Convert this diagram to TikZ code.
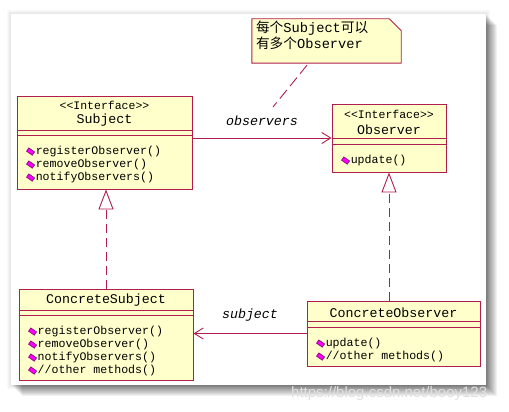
\documentclass[tikz,border=0pt]{standalone}
\usepackage{fontspec}
\setmonofont{Liberation Mono}
\newfontfamily\cjk{Noto Sans CJK SC}
\newfontfamily\wmfont{Liberation Sans}
\usetikzlibrary{arrows.meta,calc,positioning}

\definecolor{umlred}{HTML}{B01E4E}
\definecolor{umlfill}{HTML}{FFFFCC}
\definecolor{opfill}{HTML}{FF00FF}
\definecolor{opline}{HTML}{7A0A6A}

\tikzset{
  classbox/.style={draw=umlred,fill=umlfill,line width=0.9pt,rectangle,inner sep=0pt},
  umlline/.style={draw=umlred,line width=0.9pt},
  stereo/.style={font=\ttfamily\fontsize{11.5}{13}\selectfont,inner sep=0pt},
  classname/.style={font=\ttfamily\fontsize{13.3}{15}\selectfont,inner sep=0pt},
  methtext/.style={font=\ttfamily\fontsize{11.6}{13}\selectfont,anchor=west,inner sep=0pt},
  methicon/.style={rectangle,fill=opfill,draw=opline,line width=0.6pt,minimum width=7pt,minimum height=4pt,inner sep=0pt,rotate=-35},
  rolelabel/.style={font=\ttfamily\itshape\fontsize{13.3}{15}\selectfont,inner sep=0pt},
  realize/.style={umlline,dash pattern=on 9pt off 5pt,-{Triangle[open,length=20pt,width=15pt]}},
  assoc/.style={umlline,-{Straight Barb[length=9pt,width=11pt]}},
}

% operations of a class, one per line
\newcommand\umlops[2]{%
  \foreach \m [count=\i] in {#2}{
    \node[methtext] at ($(#1)+(0,{13*(\i-1)})$) {\m};
    \node[methicon] at ($(#1)+(-5,{13*(\i-1)})$) {};
  }}

\begin{document}
\begin{tikzpicture}[x=1pt,y=-1pt]
  \useasboundingbox (0,0) rectangle (509,412);
  % panel with shadow
  \foreach \s in {1,...,4}
    \fill[black,opacity=0.025] (11-\s,14-\s) rectangle (486+\s,385+\s);
  \foreach \s in {1,...,11}
    \fill[black,opacity=0.055] (11+\s,14+\s) rectangle (486+\s,385+\s);
  \fill[white] (11,14) rectangle (486,385);

  % classes
  \node[classbox,minimum width=175pt,minimum height=93pt] (subj) at (104.5,142.5) {};
  \node[classbox,minimum width=114pt,minimum height=68pt] (obs) at (389,138) {};
  \node[classbox,minimum width=174pt,minimum height=91pt] (csub) at (106,334.5) {};
  \node[classbox,minimum width=173pt,minimum height=65pt] (cobs) at (393.5,333.5) {};

  \node[stereo] (subjst) at ([yshift=-10pt]subj.north) {<<Interface>>};
  \node[classname] (subjname) at ([yshift=-25pt]subj.north) {Subject};
  \draw[umlline] ([yshift=-35pt]subj.north west) -- ([yshift=-35pt]subj.north east);
  \draw[umlline] ([yshift=-40pt]subj.north west) -- ([yshift=-40pt]subj.north east);
  \coordinate (subjops) at ([xshift=19pt,yshift=-56pt]subj.north west);
  \umlops{subjops}{registerObserver(),removeObserver(),notifyObservers()}

  \node[stereo] (obsst) at ([yshift=-11pt]obs.north) {<<Interface>>};
  \node[classname] (obsname) at ([yshift=-26pt]obs.north) {Observer};
  \draw[umlline] ([yshift=-35pt]obs.north west) -- ([yshift=-35pt]obs.north east);
  \draw[umlline] ([yshift=-41pt]obs.north west) -- ([yshift=-41pt]obs.north east);
  \coordinate (obsops) at ([xshift=19pt,yshift=-57pt]obs.north west);
  \umlops{obsops}{update()}

  \node[classname] (csubname) at ([yshift=-12pt]csub.north) {ConcreteSubject};
  \draw[umlline] ([yshift=-22pt]csub.north west) -- ([yshift=-22pt]csub.north east);
  \draw[umlline] ([yshift=-27pt]csub.north west) -- ([yshift=-27pt]csub.north east);
  \coordinate (csubops) at ([xshift=19pt,yshift=-43pt]csub.north west);
  \umlops{csubops}{registerObserver(),removeObserver(),notifyObservers(),//other methods()}

  \node[classname] (cobsname) at ([yshift=-12pt]cobs.north) {ConcreteObserver};
  \draw[umlline] ([yshift=-21pt]cobs.north west) -- ([yshift=-21pt]cobs.north east);
  \draw[umlline] ([yshift=-27pt]cobs.north west) -- ([yshift=-27pt]cobs.north east);
  \coordinate (cobsops) at ([xshift=19pt,yshift=-43pt]cobs.north west);
  \umlops{cobsops}{update(),//other methods()}

  % relations
  \draw[assoc] ([yshift=4.5pt]subj.east) -- (obs.west)
    node[rolelabel,midway,yshift=17pt] (obsrole) {observers};
  \draw[assoc] (cobs.west) -- (cobs.west -| csub.east)
    node[rolelabel,midway,yshift=18pt] (subjrole) {subject};
  \draw[realize] (csub.north) -- (csub.north |- subj.south);
  \draw[realize] (obs.south |- cobs.north) -- (obs.south);

  % note
  \node[minimum width=149pt,minimum height=44pt,inner sep=0pt] (note) at (326.5,41) {};
  \filldraw[umlline,fill=umlfill] (note.north west) -- ([xshift=-12pt]note.north east)
    -- ([yshift=-12pt]note.north east) -- (note.south east) -- (note.south west) -- cycle;
  \node[anchor=north west,align=left,inner sep=0pt,font=\fontsize{13.7}{16}\selectfont] (notetext)
    at ([xshift=4pt,yshift=-2pt]note.north west)
    {{\cjk 每个}{\ttfamily Subject}{\cjk 可以}\\{\cjk 有多个}{\ttfamily Observer}};
  \coordinate (noteend) at (273,107);
  \draw[umlline,dash pattern=on 11pt off 5pt] ([xshift=-19.5pt,yshift=-2pt]note.south) -- (noteend);

  % watermark
  \node[anchor=west,inner sep=0pt,text=white!75!gray,font=\wmfont\fontsize{15}{17}\selectfont] (wm)
    at (291,394) {https://blog.csdn.net/booy123};
\end{tikzpicture}
\end{document}
